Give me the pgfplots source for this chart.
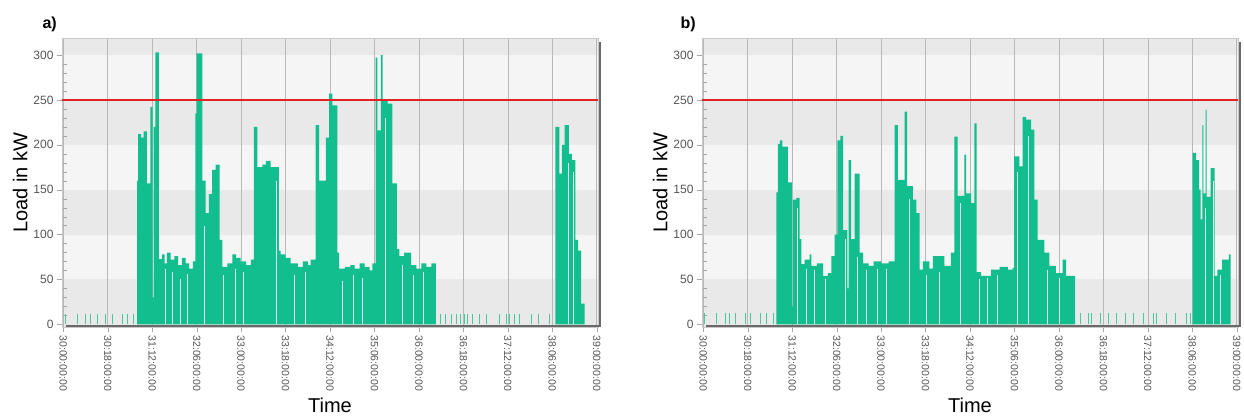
\documentclass[border=0pt]{standalone}
\usepackage{fontspec}
\setmainfont{Liberation Sans}
\usepackage{pgfplots}
\pgfplotsset{compat=1.18}
\usetikzlibrary{calc}

\definecolor{bar}{RGB}{18,190,142}
\definecolor{spike}{RGB}{70,200,160}
\definecolor{bandA}{RGB}{233,233,233}
\definecolor{bandB}{RGB}{245,245,245}
\definecolor{tickgray}{RGB}{85,85,85}
\definecolor{framegray}{RGB}{200,200,200}
\definecolor{shadowgray}{RGB}{105,105,105}
\definecolor{limitred}{RGB}{225,35,35}

\pgfplotsset{
  loadaxis/.style={
    set layers,
    width=536pt, height=289pt, scale only axis,
    xmin=-0.5, xmax=216.5, ymin=-3, ymax=319,
    xtick={0,18,...,216},
    xticklabels={30:00:00:00,30:18:00:00,31:12:00:00,32:06:00:00,33:00:00:00,33:18:00:00,34:12:00:00,35:06:00:00,36:00:00:00,36:18:00:00,37:12:00:00,38:06:00:00,39:00:00:00},
    xticklabel style={rotate=-90, anchor=west, font=\fontsize{10.5}{12}\selectfont, text=tickgray},
    ytick={0,50,...,300},
    minor y tick num=4,
    yticklabel style={font=\fontsize{12}{14}\selectfont, text=tickgray},
    /pgf/number format/assume math mode=true,
    tick align=outside, tick pos=left,
    major tick length=5pt, minor tick length=-5pt,
    tick style={draw=gray!70},
    xmajorgrids, grid style={draw=gray!55, line width=0.6pt},
    axis line style={draw=framegray},
    xlabel={Time}, ylabel={Load in kW},
    label style={font=\fontsize{20}{24}\selectfont},
    xlabel style={at={(axis description cs:0.5,-0.27)}, anchor=center},
    ylabel style={at={(axis description cs:-0.078,0.5)}, anchor=center},
  },
  gaps/.style={ycomb, draw=white, line width=0.6pt, mark=none, opacity=0.85},
  spikes/.style={ycomb, draw=spike, line width=0.9pt, mark=none},
}

\newcommand{\bands}{%
  \begin{pgfonlayer}{axis background}
    \fill[bandA] (axis cs:-0.5,-3) rectangle (axis cs:216.5,50);
    \fill[bandB] (axis cs:-0.5,50) rectangle (axis cs:216.5,100);
    \fill[bandA] (axis cs:-0.5,100) rectangle (axis cs:216.5,150);
    \fill[bandB] (axis cs:-0.5,150) rectangle (axis cs:216.5,200);
    \fill[bandA] (axis cs:-0.5,200) rectangle (axis cs:216.5,250);
    \fill[bandB] (axis cs:-0.5,250) rectangle (axis cs:216.5,300);
    \fill[bandA] (axis cs:-0.5,300) rectangle (axis cs:216.5,319);
  \end{pgfonlayer}}

\begin{document}
\begin{tikzpicture}

% ---------- a) ----------
\begin{axis}[loadaxis, name=A]
\bands
\addplot[const plot, fill=bar, draw=none] coordinates {
(29.9,160) (30.3,212) (31.5,208) (32.5,215) (33.9,157) (35.3,242) (36.2,30)
(36.6,220) (37.3,303) (38.7,73) (40,78) (41,68) (42,80) (43.5,72) (45,76)
(46.5,66) (48,74) (49.5,68) (51,62) (52.5,70) (53.5,235) (54,302) (56.3,160)
(57.6,124) (59,145) (60.3,172) (61.7,178) (63.3,94) (64.4,64) (66.5,68)
(68.5,78) (70,74) (71.8,70) (74,66) (76,72) (77.2,220) (78.6,175) (80.6,178)
(82,182) (84,175) (87.3,82) (88,78) (90,74) (92.1,68) (95,64) (97,70) (99,66)
(100.2,72) (102.2,222) (103.6,160) (106.3,208) (107.6,257) (109,244) (111,80)
(111.7,62) (114,64) (116.2,66) (118,62) (120,68) (122,64) (124,60) (125.2,68)
(126.5,297) (127.2,216) (128.6,300) (129.3,250) (131.3,246) (133.3,157)
(135.1,84) (136.1,76) (138,80) (140.8,66) (143,62) (145,68) (147,64) (149,68)
(150.9,0)
} \closedcycle;
\addplot[const plot, fill=bar, draw=none] coordinates {
(199.2,220) (200.9,168) (201.9,200) (203,222) (204.7,190) (205.9,183)
(207.3,94) (208.4,82) (209.7,23) (211.1,0)
} \closedcycle;
\addplot[gaps] coordinates {
(41.4,62) (44.2,58) (47.3,50) (50.2,56) (57.2,110) (64.9,55) (69.6,62)
(73.1,58) (86.1,160) (93.4,55) (98.1,58) (112.8,48) (117.3,55) (121.2,52)
(130.4,230) (137.2,66) (141.6,55) (145.8,58) (204.3,180) (206.6,170)
};
\addplot[spikes] coordinates {
(0.8,12) (5.6,12) (8.9,12) (11,12) (13.7,12) (17,12) (19.8,12) (23.8,12)
(25.8,12) (28.3,12) (152.9,12) (154.9,12) (157,12) (159,12) (160.8,12)
(162.4,12) (163.8,12) (165.8,12) (168.5,12) (171.2,12) (176.6,12) (179.3,12)
(180.7,12) (182.7,12) (184.7,12) (189.5,12) (192.2,12) (196.9,12)
};
\addplot[limitred, line width=1.2pt] coordinates {(-0.5,250) (216.5,250)};
\end{axis}
\draw[shadowgray, line width=2.5pt]
  ([xshift=4pt,yshift=1pt]A.south west) -- ([xshift=2pt,yshift=1pt]A.south east)
  -- ([xshift=2pt,yshift=-4pt]A.north east);
\node[anchor=west, font=\fontsize{16}{18}\selectfont\bfseries]
  at ([xshift=-23pt,yshift=14pt]A.north west) {a)};

% ---------- b) ----------
\begin{axis}[loadaxis, name=B, at={(640pt,0pt)}, anchor=south west]
\bands
\addplot[const plot, fill=bar, draw=none] coordinates {
(29.6,147) (30.2,201) (31,205) (32,198) (33.6,198) (34.3,158) (35.9,20)
(36.3,139) (37.7,141) (39,95) (39.7,67) (41,72) (43.1,78) (43.8,65) (46,68)
(48.5,54) (50.5,57) (51.9,76) (53.2,100) (54.3,205) (55.5,210) (56.6,105)
(58.3,40) (58.9,183) (59.9,95) (61.3,168) (63.3,80) (64.7,68) (67,65) (69,70)
(72.1,68) (75,70) (77.5,222) (78.8,161) (81.5,237) (82.5,154) (84.9,139)
(86.3,124) (87.6,61) (88.9,70) (91.5,62) (93,76) (97.6,65) (100.3,80)
(101.7,209) (103,143) (105.7,189) (106.4,146) (108.4,135) (109.8,224)
(110.7,58) (112.5,54) (116.5,61) (120,64) (123.3,61) (125.3,63) (125.9,187)
(128,176) (129.3,231) (130.7,228) (132.7,217) (134.1,139) (135.4,94)
(138.1,80) (140.1,65) (142.8,57) (145.5,72) (146.9,54) (150.6,0)
} \closedcycle;
\addplot[const plot, fill=bar, draw=none] coordinates {
(198.1,191) (199.5,183) (200.8,150) (201.4,117) (202.1,222) (202.5,146)
(203.4,239) (203.8,142) (205.4,174) (207,54) (208.1,61) (210.1,72)
(212.8,78) (213.5,0)
} \closedcycle;
\addplot[gaps] coordinates {
(38.2,130) (41.8,62) (45.1,60) (49.6,50) (57.4,95) (62.4,75) (66.1,60)
(70.4,62) (74.2,62) (83.6,140) (90.2,55) (95.4,58) (104.2,135) (111.6,50)
(115.2,52) (119.1,55) (127.3,170) (131.6,210) (139.2,60) (144.1,52)
(203.1,130) (206.4,160) (209.2,55)
};
\addplot[spikes] coordinates {
(0.4,13) (5.4,13) (8.8,13) (10.8,13) (13.2,13) (16.9,13) (19.3,13) (23,13)
(25.7,13) (28.6,13) (152.6,13) (155.9,13) (157.3,13) (160.7,13) (164.1,13)
(167.4,13) (170.8,13) (174.2,13) (178.2,13) (182.3,13) (183.6,13) (187.7,13)
(191,13) (195.8,13) (197.3,13)
};
\addplot[limitred, line width=1.2pt] coordinates {(-0.5,250) (216.5,250)};
\end{axis}
\draw[shadowgray, line width=2.5pt]
  ([xshift=4pt,yshift=1pt]B.south west) -- ([xshift=2pt,yshift=1pt]B.south east)
  -- ([xshift=2pt,yshift=-4pt]B.north east);
\node[anchor=west, font=\fontsize{16}{18}\selectfont\bfseries]
  at ([xshift=-25pt,yshift=14pt]B.north west) {b)};

\pgfresetboundingbox
\path[use as bounding box] (-62pt,-92pt) rectangle (1182pt,327pt);
\end{tikzpicture}
\end{document}
